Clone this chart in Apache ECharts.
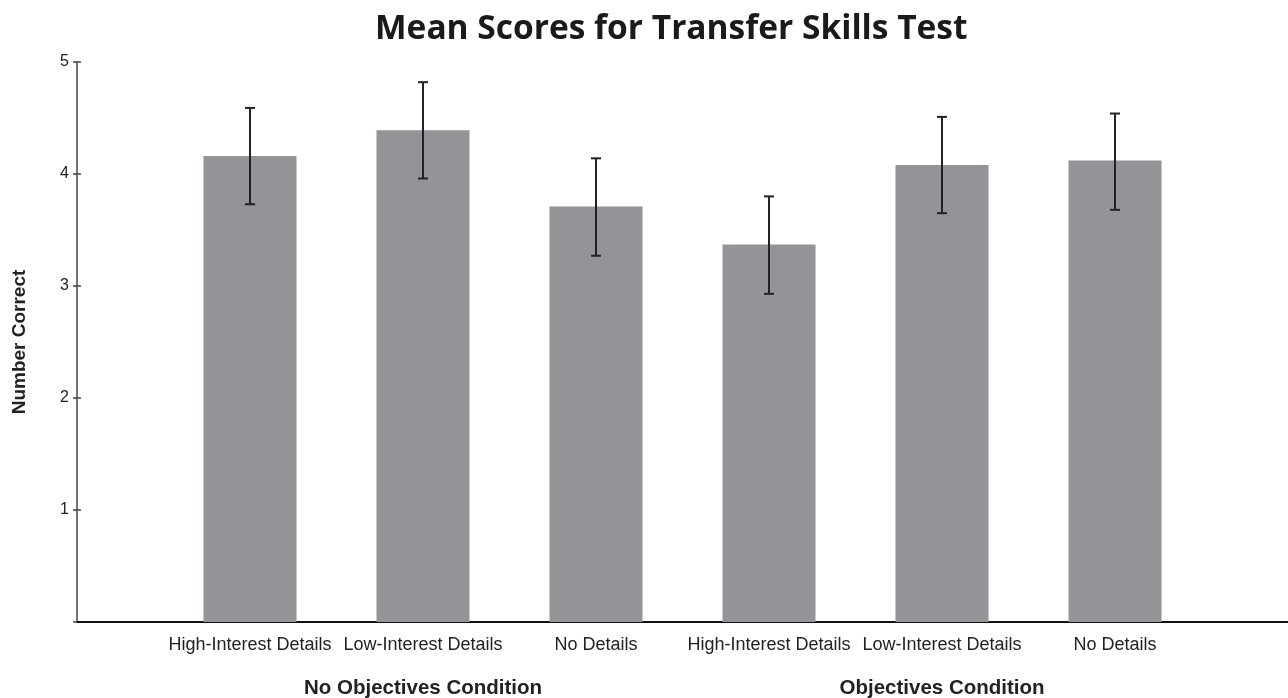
<!DOCTYPE html>
<html>
<head>
<meta charset="utf-8">
<script src="https://cdn.jsdelivr.net/npm/echarts@6/dist/echarts.min.js"></script>
<style>
    html, body { margin: 0; padding: 0; background: #fff; }
    #chart { width: 1288px; height: 698px; }
</style>
</head>
<body>
<div id="chart"></div>
<script>
    // values
    var categories = ['High-Interest Details', 'Low-Interest Details', 'No Details',
        'High-Interest Details', 'Low-Interest Details', 'No Details'];
    var groups = ['No Objectives Condition', 'Objectives Condition'];
    var means = [4.16, 4.39, 3.71, 3.37, 4.08, 4.12];
    var lower = [3.73, 3.96, 3.27, 2.93, 3.65, 3.68];
    var upper = [4.59, 4.82, 4.14, 3.80, 4.51, 4.54];
    var yTicks = [0, 1, 2, 3, 4, 5];

    // padded category slots so bars sit at positions 1..6 of 0..7
    var axisData = [''].concat(categories, ['']);
    var groupData = axisData.map(function () { return ''; });
    var perGroup = categories.length / groups.length;
    groups.forEach(function (g, i) {
        groupData[1 + i * perGroup + Math.floor(perGroup / 2)] = g;
    });

    var barData = means.map(function (v, i) { return [i + 1, v]; });
    var errData = means.map(function (v, i) { return [i + 1, lower[i], upper[i]]; });

    var chart = echarts.init(document.getElementById('chart'));
    chart.setOption({
        animation: false,
        title: {
            text: 'Mean Scores for Transfer Skills Test',
            left: 370,
            top: 7,
            textStyle: {
                fontFamily: 'Open Sans',
                fontWeight: 'bold',
                fontSize: 33.5,
                color: '#1a1a1a'
            }
        },
        grid: { left: 77, right: 0, top: 62, bottom: 76, outerBoundsMode: 'none' },
        xAxis: [{
            type: 'category',
            data: axisData,
            boundaryGap: false,
            axisLine: { lineStyle: { color: '#111', width: 2 } },
            axisTick: { show: false },
            axisLabel: {
                interval: 0,
                margin: 14,
                fontFamily: 'Liberation Sans',
                fontSize: 18,
                color: '#222'
            }
        }, {
            type: 'category',
            data: groupData,
            position: 'bottom',
            boundaryGap: false,
            axisLine: { show: false },
            axisTick: { show: false },
            axisLabel: {
                interval: 0,
                margin: 56,
                fontFamily: 'Liberation Sans',
                fontWeight: 'bold',
                fontSize: 20.5,
                color: '#222'
            }
        }],
        yAxis: [{
            type: 'value',
            min: yTicks[0],
            max: yTicks[yTicks.length - 1],
            interval: 1,
            name: 'Number Correct',
            nameLocation: 'middle',
            nameRotate: 90,
            nameGap: 48,
            nameTextStyle: {
                fontFamily: 'Liberation Sans',
                fontWeight: 'bold',
                fontSize: 19,
                color: '#222'
            },
            splitLine: { show: false },
            axisLine: { show: true, lineStyle: { color: '#444', width: 1.5 } },
            axisTick: { show: true, length: 4, lineStyle: { color: '#444', width: 1.5 } },
            axisLabel: {
                margin: 8,
                fontFamily: 'Liberation Sans',
                fontSize: 16,
                color: '#222',
                formatter: function (v) { return v === 0 ? '' : v; }
            }
        }, {
            // inner half of the crossing ticks
            type: 'value',
            min: yTicks[0],
            max: yTicks[yTicks.length - 1],
            interval: 1,
            position: 'left',
            splitLine: { show: false },
            axisLine: { show: false },
            axisLabel: { show: false },
            axisTick: {
                show: true, inside: true, length: 4,
                lineStyle: { color: '#444', width: 1.5 },
                customValues: yTicks.slice(1)
            }
        }],
        series: [{
            type: 'bar',
            data: barData,
            barWidth: 93,
            itemStyle: { color: '#939497' },
            z: 2
        }, {
            type: 'custom',
            data: errData,
            z: 3,
            renderItem: function (params, api) {
                var x = api.value(0);
                var lo = api.coord([x, api.value(1)]);
                var hi = api.coord([x, api.value(2)]);
                var half = 5;
                var style = { stroke: '#222', lineWidth: 2 };
                return {
                    type: 'group',
                    children: [
                        { type: 'line', shape: { x1: hi[0], y1: hi[1], x2: lo[0], y2: lo[1] }, style: style },
                        { type: 'line', shape: { x1: hi[0] - half, y1: hi[1], x2: hi[0] + half, y2: hi[1] }, style: style },
                        { type: 'line', shape: { x1: lo[0] - half, y1: lo[1], x2: lo[0] + half, y2: lo[1] }, style: style }
                    ]
                };
            }
        }]
    });
</script>
</body>
</html>
